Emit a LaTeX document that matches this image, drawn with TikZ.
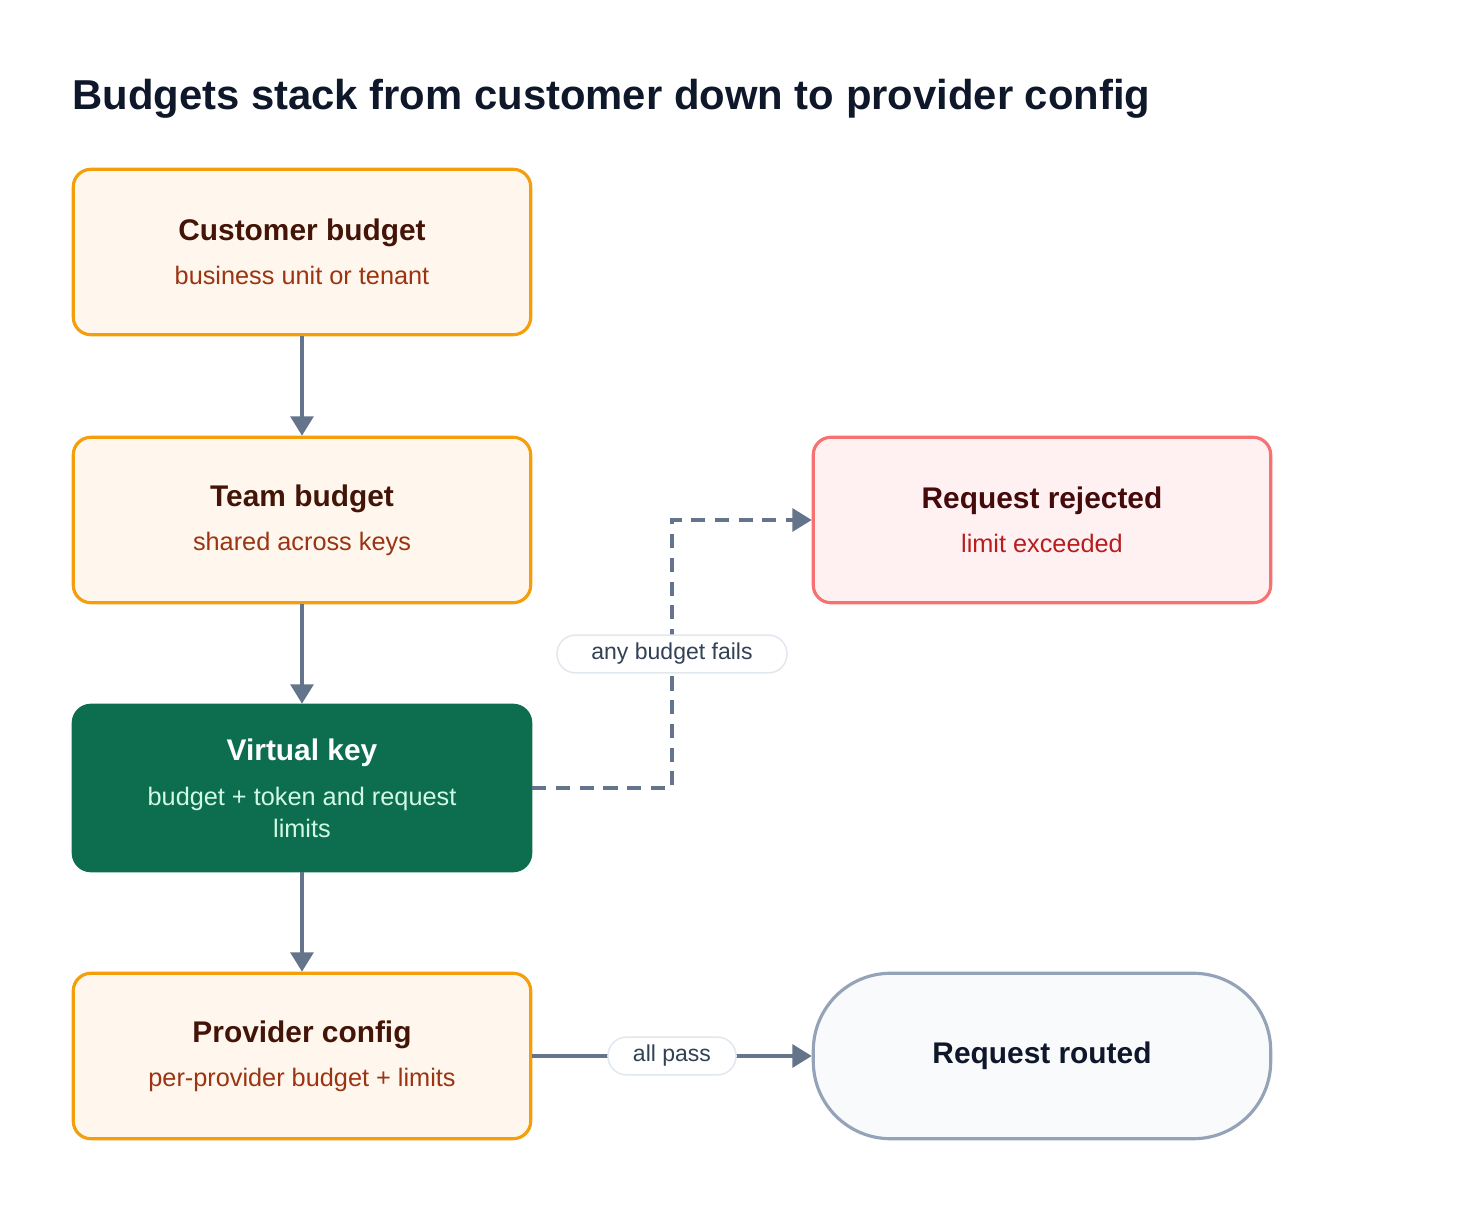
\documentclass[tikz,border=0pt]{standalone}
\usepackage{fontspec}
\setmainfont{Liberation Sans}
\usetikzlibrary{arrows.meta}

\definecolor{inkdark}{HTML}{0F172A}
\definecolor{amberedge}{HTML}{F59E0B}
\definecolor{amberfill}{HTML}{FFF7ED}
\definecolor{ambertitle}{HTML}{431407}
\definecolor{ambersub}{HTML}{9A3412}
\definecolor{keyfill}{HTML}{0D6E4F}
\definecolor{keysub}{HTML}{D1FAE5}
\definecolor{rejedge}{HTML}{F87171}
\definecolor{rejfill}{HTML}{FFF1F2}
\definecolor{rejtitle}{HTML}{450A0A}
\definecolor{rejsub}{HTML}{B91C1C}
\definecolor{okedge}{HTML}{94A3B8}
\definecolor{okfill}{HTML}{F8FAFC}
\definecolor{wire}{HTML}{64748B}
\definecolor{pilledge}{HTML}{E2E8F0}
\definecolor{pillink}{HTML}{334155}

\newcommand{\headfont}{\fontsize{17}{20}\selectfont\bfseries}
\newcommand{\notefont}{\fontsize{14.4}{18}\selectfont}

\begin{document}
\begin{tikzpicture}[x=0.02cm,y=-0.02cm,
    tier/.style={draw=amberedge, fill=amberfill, line width=1.8pt,
      rounded corners=10pt, minimum width=9.15cm, minimum height=3.31cm,
      align=center, text=ambersub, font=\notefont},
    keybox/.style={tier, draw=keyfill, fill=keyfill, text=keysub},
    rejbox/.style={tier, draw=rejedge, fill=rejfill, text=rejsub},
    okbox/.style={tier, draw=okedge, fill=okfill, text=inkdark, rounded corners=44pt},
    flow/.style={draw=wire, line width=2pt, -{Triangle[length=11pt,width=13pt]}},
    pill/.style={draw=pilledge, fill=white, line width=0.9pt, rounded corners=10.5pt,
      minimum height=21.5pt, inner ysep=0pt, text=pillink, font=\fontsize{13.1}{15}\selectfont}]
  \useasboundingbox (0,0) rectangle (1472,1212);

  % title
  \node[anchor=base west, inner sep=0pt, text=inkdark,
    font=\fontsize{23.8}{28}\selectfont\bfseries] (title) at (72,110)
    {Budgets stack from customer down to provider config};

  % budget tiers
  \node[tier] (cust) at (302,252)
    {{\headfont\color{ambertitle}Customer budget}\\[7pt]business unit or tenant};
  \node[tier] (team) at (302,520)
    {{\headfont\color{ambertitle}Team budget}\\[7pt]shared across keys};
  \node[keybox] (vkey) at (302,788)
    {{\headfont\color{white}Virtual key}\\[8pt]budget + token and request\\limits};
  \node[tier] (prov) at (302,1056)
    {{\headfont\color{ambertitle}Provider config}\\[7pt]per-provider budget + limits};

  % outcomes
  \node[rejbox] (rej) at (1042,520)
    {{\headfont\color{rejtitle}Request rejected}\\[7pt]limit exceeded};
  \node[okbox, font=\headfont] (routed) at (1042,1056) {Request routed};

  % connectors
  \draw[flow] (cust) -- (team);
  \draw[flow] (team) -- (vkey);
  \draw[flow] (vkey) -- (prov);

  \coordinate (failpt) at (672,654);
  \draw[flow, dash pattern=on 8pt off 5.5pt] (vkey.east) -| (failpt) |- (rej.west);
  \node[pill, minimum width=4.6cm] (fails) at (failpt) {any budget fails};

  \draw[flow] (prov) -- node[pill, minimum width=2.56cm] (pass) {all pass} (routed);
\end{tikzpicture}
\end{document}
